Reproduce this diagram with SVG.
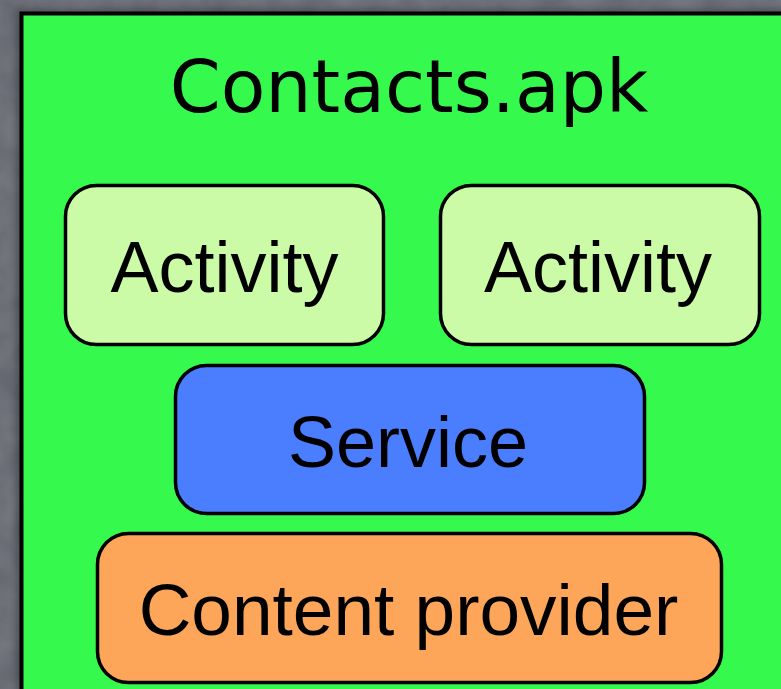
<svg xmlns="http://www.w3.org/2000/svg" width="781" height="689" viewBox="0 0 781 689">
  <defs>
    <filter id="grain" x="0" y="0" width="100%" height="100%">
      <feTurbulence type="fractalNoise" baseFrequency="0.03" numOctaves="3" seed="4" result="n"/>
      <feColorMatrix in="n" type="matrix" values="0 0 0 0 0.34  0 0 0 0 0.35  0 0 0 0 0.39  0 0 0 0.35 0" result="c"/>
      <feComposite in="c" in2="SourceGraphic" operator="atop"/>
    </filter>
    <filter id="shadow" x="-10%" y="-10%" width="130%" height="130%">
      <feGaussianBlur in="SourceAlpha" stdDeviation="4"/>
      <feOffset dx="-2" dy="-1" result="b"/>
      <feComponentTransfer><feFuncA type="linear" slope="0.4"/></feComponentTransfer>
      <feMerge><feMergeNode/><feMergeNode in="SourceGraphic"/></feMerge>
    </filter>
  </defs>
  <style>
    .box { stroke: #000; stroke-width: 3.5; }
    .lbl { font-family: "Liberation Sans", Arial, sans-serif; font-size: 72px; fill: #000; text-anchor: middle; }
    .title { font-family: "DejaVu Sans", Verdana, sans-serif; font-size: 73px; fill: #000; text-anchor: middle; }
  </style>
  <rect x="0" y="0" width="781" height="689" fill="#5f626b" filter="url(#grain)"/>
  <g id="apk" filter="url(#shadow)">
    <rect x="21.5" y="13.5" width="800" height="720" fill="#36f94e" stroke="#000" stroke-width="4"/>
    <text class="title" x="409" y="112">Contacts.apk</text>
  </g>
  <g id="connectors"></g>
  <g id="activity1">
    <rect class="box" x="65.5" y="185.5" width="318" height="159" rx="31" fill="#ccfba8"/>
    <text class="lbl" x="224.5" y="292">Activity</text>
  </g>
  <g id="activity2">
    <rect class="box" x="440.5" y="185.5" width="319" height="159" rx="31" fill="#ccfba8"/>
    <text class="lbl" x="598" y="292">Activity</text>
  </g>
  <g id="service">
    <rect class="box" x="175.5" y="365.5" width="469" height="148" rx="31" fill="#4a7eff"/>
    <text class="lbl" x="408" y="467">Service</text>
  </g>
  <g id="provider">
    <rect class="box" x="97.5" y="533.5" width="624" height="149" rx="31" fill="#fda65a"/>
    <text class="lbl" x="408.5" y="635" style="font-size:73px">Content provider</text>
  </g>
</svg>
